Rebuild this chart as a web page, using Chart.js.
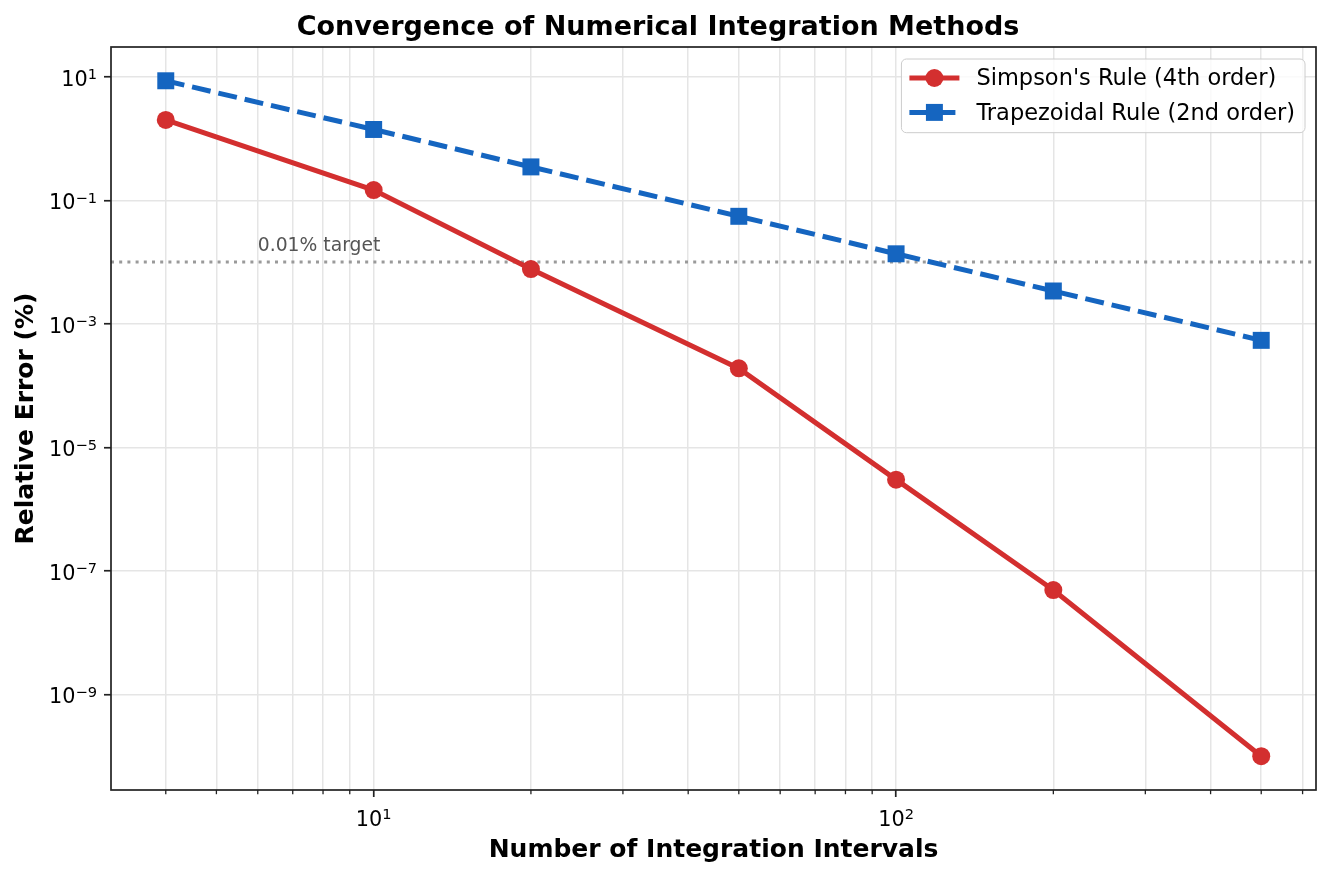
<!DOCTYPE html>
<html>
<head>
<meta charset="utf-8">
<title>Convergence of Numerical Integration Methods</title>
<script src="https://cdn.jsdelivr.net/npm/chart.js@4.4.1/dist/chart.umd.min.js"></script>
<style>
  html, body { margin: 0; padding: 0; background: #fff; }
  #chart { display: block; }
</style>
</head>
<body>
<canvas id="chart" width="1331" height="878"></canvas>
<script>
// Number of integration intervals (x axis)
const intervals = [4, 10, 20, 50, 100, 200, 500];
// Relative error in %
const simpsonError = [2.0, 0.146, 0.0077, 1.9e-4, 3.0e-6, 4.9e-8, 1.0e-10];
const trapezoidError = [8.6, 1.40, 0.347, 0.055, 0.0136, 0.0034, 5.4e-4];

// Tick positions
const xMajorTicks = [10, 100];
const xMinorTicks = [4, 5, 6, 7, 8, 9, 20, 30, 40, 50, 60, 70, 80, 90, 200, 300, 400, 500, 600];
const yMajorTicks = [1e1, 1e-1, 1e-3, 1e-5, 1e-7, 1e-9];

// Reference line and its note
const targetError = 0.01;
const targetLabel = '0.01% target';
const targetLabelAt = { x: 6, y: 0.015 };

const red = '#d32f2f';
const blue = '#1565c0';
const gridColor = '#e5e5e5';
const spineColor = '#222';
const tickFont = 20.8;
const supFont = 14.6;

// axis limits with a 5% margin in log space
function logLimits(values) {
  const logs = values.map(Math.log10);
  const lo = Math.min(...logs), hi = Math.max(...logs);
  const pad = (hi - lo) * 0.05;
  return [Math.pow(10, lo - pad), Math.pow(10, hi + pad)];
}
const [xMin, xMax] = logLimits(intervals);
const [yMin, yMax] = logLimits(simpsonError.concat(trapezoidError));

// draws "10" with a raised exponent, like a math label
function drawPower(ctx, v, x, baseline, align) {
  const exp = String(Math.round(Math.log10(v))).replace('-', '\u2212');
  ctx.font = tickFont + "px 'DejaVu Sans'";
  const wb = ctx.measureText('10').width;
  ctx.font = supFont + "px 'DejaVu Sans'";
  const we = ctx.measureText(exp).width;
  const total = wb + we;
  const left = align === 'right' ? x - total : x - total / 2;
  ctx.textAlign = 'left';
  ctx.textBaseline = 'alphabetic';
  ctx.fillStyle = '#000';
  ctx.font = tickFont + "px 'DejaVu Sans'";
  ctx.fillText('10', left, baseline);
  ctx.font = supFont + "px 'DejaVu Sans'";
  ctx.fillText(exp, left + wb, baseline - 6.6);
}

Chart.defaults.font.family = "'DejaVu Sans', sans-serif";
Chart.defaults.color = '#000';

// target line, minor ticks, tick labels, note, frame and legend
const decorations = {
  id: 'decorations',
  beforeDatasetsDraw(chart) {
    const { ctx, chartArea: a, scales: { x, y } } = chart;
    const ty = y.getPixelForValue(targetError);
    ctx.save();
    ctx.strokeStyle = '#9a9a9a';
    ctx.lineWidth = 3;
    ctx.setLineDash([3, 5.2]);
    ctx.beginPath();
    ctx.moveTo(a.left, ty);
    ctx.lineTo(a.right, ty);
    ctx.stroke();
    ctx.setLineDash([]);

    ctx.strokeStyle = spineColor;
    ctx.lineWidth = 1.3;
    xMinorTicks.forEach(v => {
      if (v < xMin || v > xMax) return;
      const px = x.getPixelForValue(v);
      ctx.beginPath();
      ctx.moveTo(px, a.bottom);
      ctx.lineTo(px, a.bottom + 4.2);
      ctx.stroke();
    });

    yMajorTicks.forEach(v => drawPower(ctx, v, a.left - 14, y.getPixelForValue(v) + 9, 'right'));
    xMajorTicks.forEach(v => drawPower(ctx, v, x.getPixelForValue(v), a.bottom + 36, 'center'));

    ctx.fillStyle = '#555';
    ctx.font = "18.75px 'DejaVu Sans'";
    ctx.textAlign = 'left';
    ctx.textBaseline = 'alphabetic';
    ctx.fillText(targetLabel, x.getPixelForValue(targetLabelAt.x), y.getPixelForValue(targetLabelAt.y));
    ctx.restore();
  },
  afterDraw(chart) {
    const { ctx, chartArea: a } = chart;
    ctx.save();
    ctx.strokeStyle = spineColor;
    ctx.lineWidth = 1.7;
    ctx.strokeRect(a.left, a.top, a.right - a.left, a.bottom - a.top);

    // legend, upper right inside the axes
    const items = chart.data.datasets;
    ctx.font = "22.5px 'DejaVu Sans'";
    const textW = Math.max(...items.map(d => ctx.measureText(d.label).width));
    const pad = 8, handleLen = 50, gap = 17, rowH = 34.4;
    const boxW = pad + handleLen + gap + textW + 10;
    const boxH = 73.7;
    const right = a.right - 11, top = a.top + 12;
    const left = right - boxW;
    ctx.beginPath();
    ctx.roundRect(left, top, boxW, boxH, 5);
    ctx.fillStyle = 'rgba(255,255,255,0.8)';
    ctx.fill();
    ctx.strokeStyle = '#cccccc';
    ctx.lineWidth = 1;
    ctx.stroke();

    items.forEach((d, i) => {
      const cy = top + 19 + i * rowH;
      const x0 = left + pad, x1 = x0 + handleLen, xm = (x0 + x1) / 2;
      ctx.strokeStyle = d.borderColor;
      ctx.lineWidth = d.borderWidth;
      ctx.setLineDash(d.borderDash || []);
      ctx.beginPath();
      ctx.moveTo(x0, cy);
      ctx.lineTo(x1, cy);
      ctx.stroke();
      ctx.setLineDash([]);
      ctx.fillStyle = d.borderColor;
      ctx.beginPath();
      if (d.pointStyle === 'rect') {
        const s = Math.SQRT1_2 * d.pointRadius;
        ctx.rect(xm - s, cy - s, 2 * s, 2 * s);
      } else {
        ctx.arc(xm, cy, d.pointRadius, 0, Math.PI * 2);
      }
      ctx.fill();
      ctx.fillStyle = '#000';
      ctx.textAlign = 'left';
      ctx.textBaseline = 'middle';
      ctx.fillText(d.label, x1 + gap, cy + 1.5);
    });
    ctx.restore();
  }
};

const ctx = document.getElementById('chart').getContext('2d');
new Chart(ctx, {
  type: 'line',
  data: {
    datasets: [
      {
        label: "Simpson's Rule (4th order)",
        data: intervals.map((x, i) => ({ x: x, y: simpsonError[i] })),
        borderColor: red,
        backgroundColor: red,
        borderWidth: 5,
        pointStyle: 'circle',
        pointRadius: 9,
        pointBorderWidth: 0,
        fill: false
      },
      {
        label: 'Trapezoidal Rule (2nd order)',
        data: intervals.map((x, i) => ({ x: x, y: trapezoidError[i] })),
        borderColor: blue,
        backgroundColor: blue,
        borderWidth: 5,
        borderDash: [19, 8],
        pointStyle: 'rect',
        pointRadius: 12,
        pointBorderWidth: 0,
        fill: false
      }
    ]
  },
  options: {
    responsive: false,
    animation: false,
    events: [],
    layout: { padding: { top: 0, left: 0, right: 15, bottom: 0 } },
    plugins: {
      legend: { display: false },
      tooltip: { enabled: false },
      title: {
        display: true,
        text: 'Convergence of Numerical Integration Methods',
        font: { size: 27, weight: 'bold' },
        color: '#000',
        padding: { top: 12, bottom: 2.6 }
      }
    },
    scales: {
      x: {
        type: 'logarithmic',
        min: xMin,
        max: xMax,
        afterBuildTicks: s => {
          s.ticks = xMinorTicks.concat(xMajorTicks)
            .filter(v => v >= xMin && v <= xMax)
            .sort((a, b) => a - b)
            .map(v => ({ value: v }));
        },
        afterFit: s => { s.height = 88; },
        ticks: { display: false, autoSkip: false, maxRotation: 0 },
        grid: {
          color: gridColor,
          lineWidth: 1.5,
          tickLength: 7,
          tickWidth: 1.7,
          tickColor: c => (c.tick && xMajorTicks.includes(c.tick.value)) ? spineColor : 'rgba(0,0,0,0)'
        },
        border: { display: false },
        title: {
          display: true,
          text: 'Number of Integration Intervals',
          font: { size: 25, weight: 'bold' },
          color: '#000',
          padding: { top: 0, bottom: 13 }
        }
      },
      y: {
        type: 'logarithmic',
        min: yMin,
        max: yMax,
        afterBuildTicks: s => { s.ticks = yMajorTicks.map(v => ({ value: v })); },
        afterFit: s => { s.width = 111; },
        ticks: { display: false, autoSkip: false },
        grid: {
          color: gridColor,
          lineWidth: 1.5,
          tickLength: 7,
          tickWidth: 1.7,
          tickColor: spineColor
        },
        border: { display: false },
        title: {
          display: true,
          text: 'Relative Error (%)',
          font: { size: 25, weight: 'bold' },
          color: '#000',
          padding: { top: 11, bottom: 0 }
        }
      }
    }
  },
  plugins: [decorations]
});
</script>
</body>
</html>
